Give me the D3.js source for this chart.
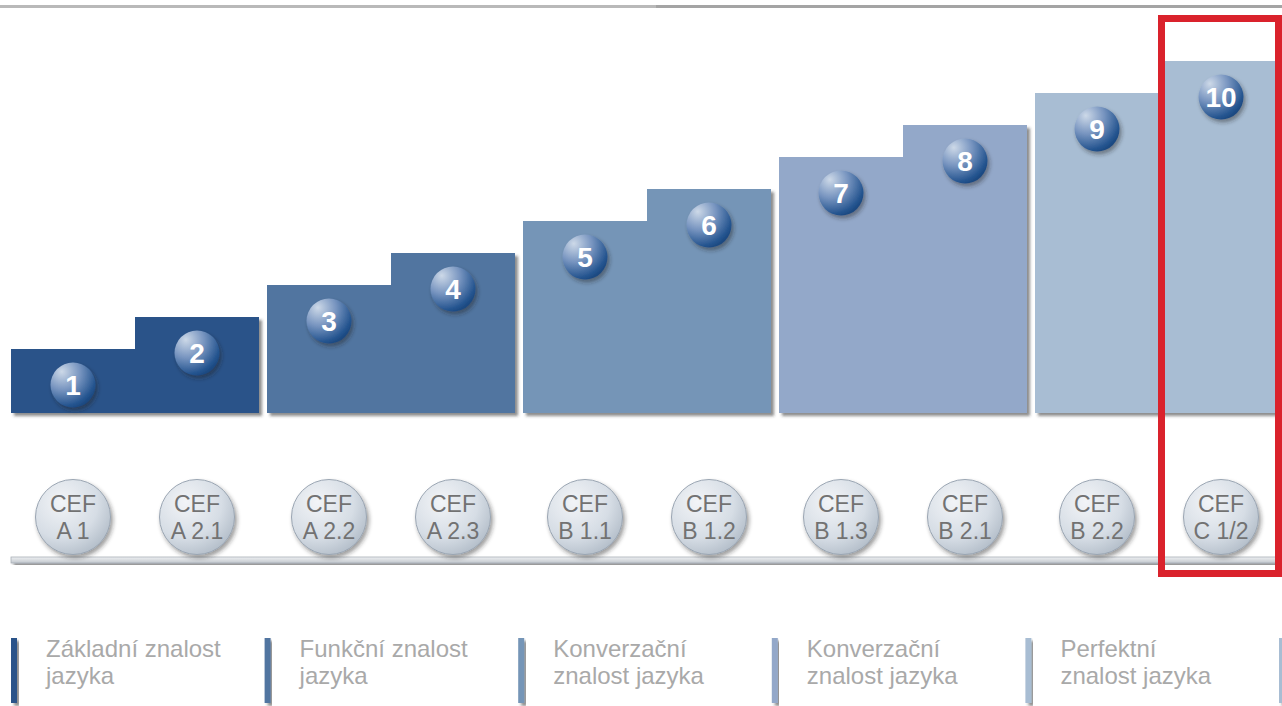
<!DOCTYPE html>
<html>
<head>
<meta charset="utf-8">
<script src="https://cdn.jsdelivr.net/npm/d3@7"></script>
<style>
	body { margin: 0; background: #fff; }
	svg { display: block; }
</style>
</head>
<body>
<div id="chart"></div>
<script>

// levels 1..10, step height of each level (in "step" units)
var levels= [1, 2, 3, 4, 5, 6, 7, 8, 9, 10];
var level_values= [2, 3, 4, 5, 6, 7, 8, 9, 10, 11];
var cef_labels= ["A 1", "A 2.1", "A 2.2", "A 2.3", "B 1.1", "B 1.2", "B 1.3", "B 2.1", "B 2.2", "C 1/2"];
var group_names= [
	["Základní znalost", "jazyka"],
	["Funkční znalost", "jazyka"],
	["Konverzační", "znalost jazyka"],
	["Konverzační", "znalost jazyka"],
	["Perfektní", "znalost jazyka"]
];
var group_colors= ["#2b5389", "#5174a0", "#7595b7", "#93a8c9", "#a8bdd3"];
var highlight_level= 10;

var width= 1282, height= 706;

var svg= d3.select("#chart")
	.append("svg")
	.attr("width", width)
	.attr("height", height);

var defs= svg.append("defs");

var shadow= defs.append("filter").attr("id", "shadow")
	.attr("x", "-10%").attr("y", "-10%").attr("width", "130%").attr("height", "130%");
shadow.append("feDropShadow")
	.attr("dx", 3).attr("dy", 3).attr("stdDeviation", 1.6)
	.attr("flood-color", "#333").attr("flood-opacity", 0.55);

var shadow_soft= defs.append("filter").attr("id", "shadow_soft")
	.attr("x", "-30%").attr("y", "-30%").attr("width", "170%").attr("height", "170%");
shadow_soft.append("feDropShadow")
	.attr("dx", 2).attr("dy", 3).attr("stdDeviation", 2)
	.attr("flood-color", "#222").attr("flood-opacity", 0.45);

var bubble_grad= defs.append("radialGradient").attr("id", "bubble_grad")
	.attr("cx", "30%").attr("cy", "25%").attr("r", "85%").attr("fx", "25%").attr("fy", "20%");
bubble_grad.append("stop").attr("offset", "0%").attr("stop-color", "#cdd9e8");
bubble_grad.append("stop").attr("offset", "45%").attr("stop-color", "#7895c0");
bubble_grad.append("stop").attr("offset", "85%").attr("stop-color", "#24548f");
bubble_grad.append("stop").attr("offset", "100%").attr("stop-color", "#174378");

var cef_grad= defs.append("radialGradient").attr("id", "cef_grad")
	.attr("cx", "35%").attr("cy", "30%").attr("r", "80%");
cef_grad.append("stop").attr("offset", "0%").attr("stop-color", "#f2f4f7");
cef_grad.append("stop").attr("offset", "60%").attr("stop-color", "#d6dde5");
cef_grad.append("stop").attr("offset", "100%").attr("stop-color", "#aeb9c5");

var shelf_grad= defs.append("linearGradient").attr("id", "shelf_grad")
	.attr("x1", 0).attr("y1", 0).attr("x2", 0).attr("y2", 1);
shelf_grad.append("stop").attr("offset", "0%").attr("stop-color", "#eef0f2");
shelf_grad.append("stop").attr("offset", "100%").attr("stop-color", "#c3c8ce");

// top rule
svg.append("rect").attr("x", 0).attr("y", 5).attr("width", 656).attr("height", 3).attr("fill", "#b9b9b9");
svg.append("rect").attr("x", 656).attr("y", 5).attr("width", width- 656).attr("height", 3).attr("fill", "#a4a4a4");

// scales
var group_ids= d3.range(group_names.length);
var x_group= d3.scaleBand()
	.domain(group_ids)
	.range([11, 1283])
	.paddingInner(0.03125)
	.paddingOuter(0);

var x_level= function(i) {
	var g= Math.floor(i/ 2);
	return x_group(g)+ (i% 2)* x_group.bandwidth()/ 2;
};
var level_w= x_group.bandwidth()/ 2;

var y= d3.scaleLinear()
	.domain([0, 11])
	.range([413, 61]);

// step blocks per group
var blocks= svg.append("g");
group_ids.forEach(function(g) {
	var x0= x_group(g), xm= x0+ level_w, x1= x0+ x_group.bandwidth();
	var t1= y(level_values[g* 2]), t2= y(level_values[g* 2+ 1]);
	var p= d3.path();
	p.moveTo(x0, y(0));
	p.lineTo(x0, t1);
	p.lineTo(xm, t1);
	p.lineTo(xm, t2);
	p.lineTo(x1, t2);
	p.lineTo(x1, y(0));
	p.closePath();
	blocks.append("path")
		.attr("d", p.toString())
		.attr("fill", group_colors[g])
		.attr("filter", "url(#shadow)");
});

// numbered bubbles
var bubbles= svg.append("g").selectAll("g")
	.data(levels)
	.enter().append("g")
	.attr("transform", function(d, i) {
		return "translate(" + (x_level(i)+ level_w/ 2) + "," + (y(level_values[i])+ 36) + ")";
	});
bubbles.append("circle")
	.attr("r", 22.5)
	.attr("fill", "url(#bubble_grad)")
	.attr("filter", "url(#shadow_soft)");
bubbles.append("text")
	.attr("y", 10)
	.attr("text-anchor", "middle")
	.attr("font-family", "Liberation Sans, Arial, sans-serif")
	.attr("font-weight", "bold")
	.attr("font-size", 28)
	.attr("fill", "#fff")
	.text(function(d) { return d; });

// shelf
svg.append("rect")
	.attr("x", 11).attr("y", 557)
	.attr("width", width- 11).attr("height", 6)
	.attr("fill", "url(#shelf_grad)")
	.attr("stroke", "#a9b0b8").attr("stroke-width", 0.8)
	.attr("filter", "url(#shadow)");

// CEF discs
var cef= svg.append("g").selectAll("g")
	.data(cef_labels)
	.enter().append("g")
	.attr("transform", function(d, i) {
		return "translate(" + (x_level(i)+ level_w/ 2) + ",517)";
	});
cef.append("circle")
	.attr("r", 37.5)
	.attr("fill", "url(#cef_grad)")
	.attr("stroke", "#9aa5b2").attr("stroke-width", 1)
	.attr("filter", "url(#shadow_soft)");
cef.append("text")
	.attr("y", -5)
	.attr("text-anchor", "middle")
	.attr("font-family", "Liberation Sans, Arial, sans-serif")
	.attr("font-size", 23)
	.attr("fill", "#727272")
	.text("CEF");
cef.append("text")
	.attr("y", 22)
	.attr("text-anchor", "middle")
	.attr("font-family", "Liberation Sans, Arial, sans-serif")
	.attr("font-size", 23)
	.attr("fill", "#727272")
	.text(function(d) { return d; });

// group labels at the bottom
var x_label= d3.scaleLinear().domain([0, group_names.length]).range([11, 1279]);
var label_marks= group_ids.concat([group_names.length]);
svg.append("g").selectAll("rect")
	.data(label_marks)
	.enter().append("rect")
	.attr("x", function(d) { return x_label(d); })
	.attr("y", 638)
	.attr("width", 6)
	.attr("height", 65)
	.attr("fill", function(d) { return group_colors[Math.min(d, group_colors.length- 1)]; })
	.attr("filter", "url(#shadow)");

var labels= svg.append("g").selectAll("text")
	.data(group_names)
	.enter().append("text")
	.attr("x", function(d, i) { return x_label(i)+ 35; })
	.attr("y", 657)
	.attr("font-family", "Liberation Sans, Arial, sans-serif")
	.attr("font-size", 24)
	.attr("fill", "#a9a9a9");
labels.selectAll("tspan")
	.data(function(d) { return d; })
	.enter().append("tspan")
	.attr("x", function() { return d3.select(this.parentNode).attr("x"); })
	.attr("dy", function(d, i) { return i== 0 ? 0 : 27; })
	.text(function(d) { return d; });

// red highlight frame around the top level
var hi= highlight_level- 1;
svg.append("rect")
	.attr("x", x_level(hi)+ 2.5)
	.attr("y", 18.5)
	.attr("width", width- 3.5- (x_level(hi)+ 2.5))
	.attr("height", 555)
	.attr("fill", "none")
	.attr("stroke", "#da222c")
	.attr("stroke-width", 7);

</script>
</body>
</html>
